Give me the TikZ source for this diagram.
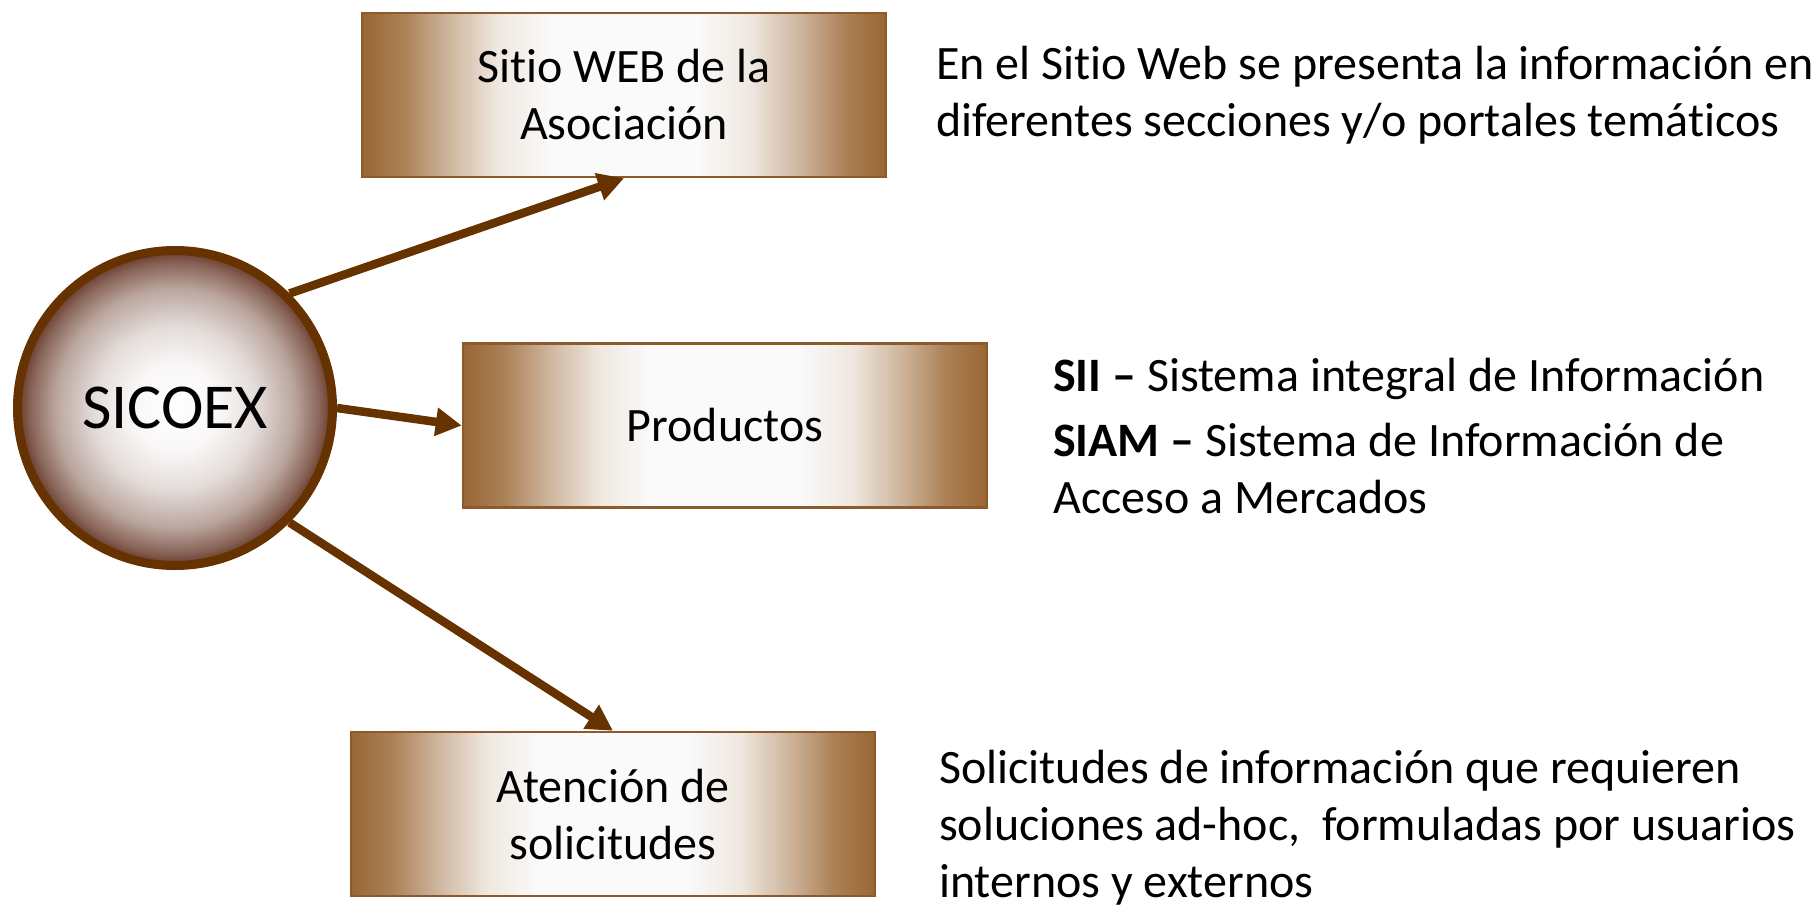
\documentclass[tikz,border=0pt]{standalone}
\usepackage{fontspec}
\setmainfont{Carlito}[Ligatures=NoCommon]
\usetikzlibrary{arrows.meta}
\definecolor{boxbrown}{RGB}{153,102,51}
\definecolor{ballbrown}{RGB}{102,56,40}
\definecolor{linebrown}{RGB}{102,51,0}
\definecolor{boxline}{RGB}{140,90,45}
\pgfdeclarehorizontalshading{boxshade}{100bp}{color(0bp)=(boxbrown); color(25bp)=(boxbrown); color(29bp)=(boxbrown!82!white); color(33bp)=(boxbrown!50!white); color(38bp)=(boxbrown!15!white); color(43bp)=(white!98!black); color(57bp)=(white!98!black); color(62bp)=(boxbrown!15!white); color(67bp)=(boxbrown!50!white); color(71bp)=(boxbrown!82!white); color(75bp)=(boxbrown); color(100bp)=(boxbrown)}
\pgfdeclareradialshading{ballshade}{\pgfpoint{0bp}{0bp}}{color(0bp)=(white); color(7bp)=(white!96!ballbrown); color(13bp)=(white!82!ballbrown); color(19bp)=(white!55!ballbrown); color(23bp)=(white!22!ballbrown); color(25bp)=(ballbrown); color(50bp)=(ballbrown)}
\begin{document}
\begin{tikzpicture}[x=1pt,y=-1pt,
  ball/.style={circle, minimum size=315pt, inner sep=0pt, draw=linebrown, line width=9pt, shading=ballshade, shade, font=\fontsize{64}{76}\selectfont},
  boxnode/.style={rectangle, minimum width=524pt, minimum height=164pt, inner sep=0pt, draw=boxline, line width=2.5pt, shading=boxshade, shade, align=center, font=\fontsize{48}{57}\selectfont},
  arr/.style={draw=linebrown, line width=8.5pt, -{Triangle[length=26pt,width=27pt]}},
  rtext/.style={anchor=west, align=left, inner sep=0pt, font=\fontsize{48}{57}\selectfont}]
\useasboundingbox (0,0) rectangle (1818,908);
\node[ball] (c) at (175,408) {SICOEX};
\node[boxnode] (b1) at (624,95) {Sitio WEB de la\\Asociación};
\node[boxnode] (b2) at (725,425.5) {Productos};
\node[boxnode] (b3) at (613,814) {Atención de\\solicitudes};
\draw[arr] (c.45) -- (b1.south);
\draw[arr] (c.east) -- (b2.west);
\draw[arr] (c.-45) -- (b3.north);
\node[rtext] (t1) at (936,95) {En el Sitio Web se presenta la información en\\diferentes secciones y/o portales temáticos};
\node[rtext] (t2) at (1053,436) {\textbf{SII –} Sistema integral de Información\\[8pt]\textbf{SIAM –} Sistema de Información de\\Acceso a Mercados};
\node[rtext] (t3) at (939,828) {Solicitudes de información que requieren\\soluciones ad-hoc,\ \ formuladas por usuarios\\internos y externos};
\end{tikzpicture}
\end{document}
